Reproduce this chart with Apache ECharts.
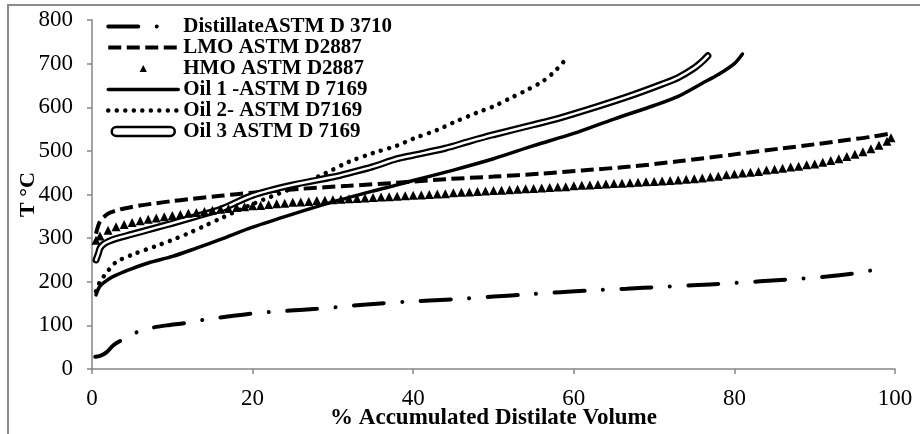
<!DOCTYPE html>
<html>
<head>
<meta charset="utf-8">
<script src="https://cdn.jsdelivr.net/npm/echarts@6.0.0/dist/echarts.min.js"></script>
<style>
  html, body { margin: 0; padding: 0; background: #fff; }
  #chart { width: 920px; height: 434px; }
</style>
</head>
<body>
<div id="chart"></div>
<script>
// Boiling-point distributions: temperature (°C) vs % accumulated distillate volume
const seriesNames = [
  'DistillateASTM D 3710',
  'LMO ASTM D2887',
  'HMO ASTM D2887',
  'Oil 1 -ASTM D 7169',
  'Oil 2- ASTM D7169',
  'Oil 3 ASTM D 7169'
];

const distillateX = [0.4, 1, 1.8, 2.7, 3.9, 5.8, 7.6, 9.3, 11.8, 14, 16, 17.6, 20, 22.4, 24.7, 28, 30.6, 34.2, 39, 45.2, 50, 53.5, 58.3, 62, 66.6, 70.7, 74.8, 79, 83.2, 87.3, 91.5, 95.6, 97.8];
const distillateT = [28, 30, 38, 55, 68, 86, 95, 100, 106, 113, 118, 122, 127, 131, 134, 138, 142, 148, 154, 160, 166, 170, 176, 180, 184, 188, 192, 196, 201, 206, 212, 221, 229];

const lmoX = [0.5, 1, 2, 3, 4, 6, 8, 10, 12, 16, 20, 26, 32, 38, 44, 50, 56, 61, 67, 73, 80, 86, 90, 94, 97, 99.5];
const lmoT = [310, 338, 356, 363, 368, 375, 380, 385, 389, 397, 404, 413, 420, 427, 435, 441, 448, 455, 464, 476, 492, 506, 515, 525, 532, 540];

const hmoX = [0.5, 1, 2, 3, 4, 5, 6, 7, 8, 9, 10, 11, 12, 13, 14, 15, 16, 17, 18, 19, 20,
  21, 22, 23, 24, 25, 26, 27, 28, 29, 30, 31, 32, 33, 34, 35, 36, 37, 38, 39, 40,
  41, 42, 43, 44, 45, 46, 47, 48, 49, 50, 51, 52, 53, 54, 55, 56, 57, 58, 59, 60,
  61, 62, 63, 64, 65, 66, 67, 68, 69, 70, 71, 72, 73, 74, 75, 76, 77, 78, 79, 80,
  81, 82, 83, 84, 85, 86, 87, 88, 89, 90, 91, 92, 93, 94, 95, 96, 97, 98, 99, 99.5];
const hmoT = [295, 305, 318, 326, 331, 336, 340, 343, 346, 349, 352, 354, 357, 359, 361, 364, 366, 368, 370, 372, 374,
  375, 377, 379, 380, 382, 383, 384, 386, 387, 388, 389, 390, 391, 392, 393, 394, 395, 396, 397, 398,
  399, 400, 401, 402, 404, 405, 406, 407, 408, 409, 410, 411, 412, 413, 414, 415, 416, 417, 418, 420,
  421, 422, 423, 424, 425, 426, 427, 428, 429, 430, 431, 432, 433, 435, 436, 438, 440, 442, 445, 447,
  449, 451, 453, 456, 458, 460, 463, 465, 468, 470, 474, 478, 482, 487, 492, 498, 505, 513, 522, 530];

const oil1X = [0.5, 1, 2, 3, 5, 7, 10, 13, 16, 20, 25, 30, 35, 38, 40, 45, 50, 55, 60, 65, 70, 73, 76, 78, 80, 81];
const oil1T = [170, 190, 205, 215, 230, 243, 258, 277, 297, 325, 355, 383, 408, 422, 432, 456, 482, 512, 540, 573, 604, 625, 655, 675, 700, 722];

const oil2X = [0.5, 1, 2, 3, 5, 8, 10, 12, 14, 16, 20, 25, 29, 32, 35, 38, 40, 43, 45, 48, 50, 52, 54, 56, 57.5, 59];
const oil2T = [178, 200, 225, 245, 262, 282, 296, 311, 328, 345, 378, 415, 448, 475, 495, 512, 528, 548, 565, 588, 602, 620, 638, 658, 680, 710];

const oil3X = [0.5, 0.8, 1, 1.5, 2, 3, 5, 8, 10, 13, 16, 20, 25, 30, 32, 35, 38, 40, 44, 47, 50, 55, 58, 63, 67, 71, 73, 75, 76, 76.7];
const oil3T = [250, 265, 277, 287, 292, 299, 309, 324, 334, 350, 366, 398, 422, 440, 449, 464, 482, 490, 506, 522, 537, 560, 574, 602, 626, 653, 668, 690, 705, 718];

const xMin = 0, xMax = 100, xStep = 20;
const yMin = 0, yMax = 800, yStep = 100;

const pairs = (xs, ys) => xs.map((x, i) => [x, ys[i]]);

const serif = "'Times New Roman', 'Liberation Serif', serif";
const axisGrey = '#868686';

const chart = echarts.init(document.getElementById('chart'), null, { renderer: 'canvas' });

chart.setOption({
  backgroundColor: '#fff',
  animation: false,
  graphic: [{
    type: 'rect',
    silent: true,
    z: 100,
    shape: { x: 8, y: 5, width: 1200, height: 800 },
    style: { fill: 'none', stroke: '#8c8c8c', lineWidth: 2 }
  }],
  grid: { left: 92, right: 25, top: 20, bottom: 65, outerBoundsMode: 'none' },
  legend: {
    orient: 'vertical',
    left: 101,
    top: 11,
    itemWidth: 70,
    itemHeight: 9,
    itemGap: 0,
    textStyle: { fontFamily: serif, fontWeight: 'bold', fontSize: 21, color: '#000', lineHeight: 21 },
    lineStyle: { width: 'inherit' },
    data: [
      { name: seriesNames[0], itemStyle: { opacity: 0 }, lineStyle: { type: [30, 18.5, 0.01, 40] } },
      { name: seriesNames[1], itemStyle: { opacity: 0 } },
      { name: seriesNames[2] },
      { name: seriesNames[3], itemStyle: { opacity: 0 } },
      { name: seriesNames[4], itemStyle: { opacity: 0 } },
      {
        name: seriesNames[5],
        icon: 'path://M5,0 L65,0 A5,5 0 0 1 65,10 L5,10 A5,5 0 0 1 5,0 Z',
        itemStyle: { color: '#fff', borderColor: '#000', borderWidth: 2.5 }
      }
    ]
  },
  xAxis: {
    type: 'value',
    min: xMin, max: xMax, interval: xStep,
    name: '% Accumulated Distilate Volume',
    nameLocation: 'middle',
    nameGap: 38,
    nameMoveOverlap: false,
    nameTextStyle: { fontFamily: serif, fontWeight: 'bold', fontSize: 23, color: '#000' },
    axisLine: { show: true, lineStyle: { color: axisGrey, width: 1.5 } },
    axisTick: { show: true, length: 5, lineStyle: { color: axisGrey, width: 1.5 } },
    axisLabel: { fontFamily: serif, fontSize: 23, color: '#000', margin: 18 },
    splitLine: { show: false }
  },
  yAxis: {
    type: 'value',
    min: yMin, max: yMax, interval: yStep,
    name: 'T °C',
    nameLocation: 'middle',
    nameGap: 53,
    nameMoveOverlap: false,
    nameRotate: 90,
    nameTextStyle: { fontFamily: serif, fontWeight: 'bold', fontSize: 22, color: '#000' },
    axisLine: { show: true, lineStyle: { color: axisGrey, width: 1.5 } },
    axisTick: { show: true, length: 5, lineStyle: { color: axisGrey, width: 1.5 } },
    axisLabel: { fontFamily: serif, fontSize: 23, color: '#000', margin: 19 },
    splitLine: { show: false }
  },
  series: [
    {
      name: seriesNames[0], type: 'line', smooth: 0.3, symbol: 'none',
      data: pairs(distillateX, distillateT),
      lineStyle: { color: '#000', width: 4, type: [30, 18.5, 0.01, 18.5], cap: 'round' }
    },
    {
      name: seriesNames[1], type: 'line', smooth: 0.3, symbol: 'none',
      data: pairs(lmoX, lmoT),
      lineStyle: { color: '#000', width: 4, type: [13, 5.5], cap: 'butt' }
    },
    {
      name: seriesNames[2], type: 'line', symbol: 'triangle', symbolSize: 9,
      showSymbol: true, showAllSymbol: true,
      data: pairs(hmoX, hmoT),
      itemStyle: { color: '#000' },
      lineStyle: { color: '#000', width: 0, opacity: 0 }
    },
    {
      name: seriesNames[3], type: 'line', smooth: 0.3, symbol: 'none',
      data: pairs(oil1X, oil1T),
      lineStyle: { color: '#000', width: 3.5, cap: 'round' }
    },
    {
      name: seriesNames[4], type: 'line', smooth: 0.3, symbol: 'none',
      data: pairs(oil2X, oil2T),
      lineStyle: { color: '#000', width: 4.5, type: [0.01, 8.5], cap: 'round' }
    },
    {
      name: seriesNames[5], type: 'line', smooth: 0.3, symbol: 'none',
      data: pairs(oil3X, oil3T),
      lineStyle: { color: '#000', width: 7, cap: 'round' }
    },
    {
      // white core of the double line
      name: seriesNames[5], type: 'line', smooth: 0.3, symbol: 'none',
      data: pairs(oil3X, oil3T),
      lineStyle: { color: '#fff', width: 2.5, cap: 'round' }
    }
  ]
});
</script>
</body>
</html>
